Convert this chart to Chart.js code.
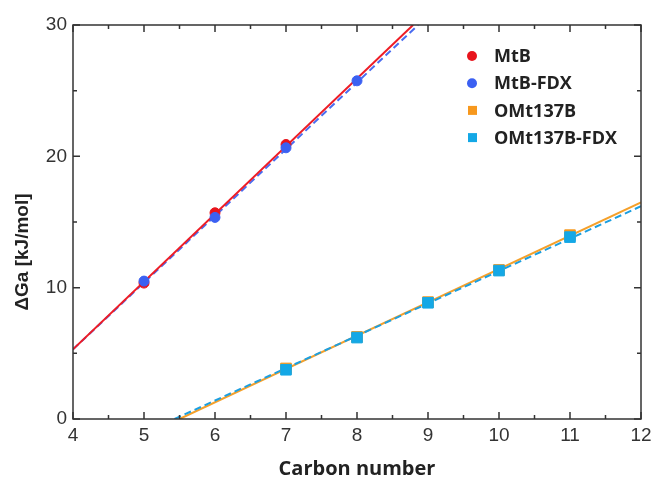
<!DOCTYPE html>
<html>
<head>
<meta charset="utf-8">
<script src="https://cdn.jsdelivr.net/npm/chart.js@4/dist/chart.umd.min.js"></script>
<style>
  html, body { margin: 0; padding: 0; background: #fff; }
  #wrap { width: 654px; height: 486px; }
</style>
</head>
<body>
<div id="wrap"><canvas id="myChart"></canvas></div>
<script>
// measured points
const carbonMtB = [5, 6, 7];
const mtb = [10.35, 15.7, 20.9];
const carbonMtBFdx = [5, 6, 7, 8];
const mtbFdx = [10.5, 15.35, 20.65, 25.75];
const carbonOMt = [7, 8, 9, 10, 11];
const omt = [3.85, 6.25, 8.9, 11.35, 14.0];
const omtFdx = [3.75, 6.2, 8.85, 11.3, 13.85];

// fitted lines, [x, y] end points
const mtbFit = [[4, 5.3], [8.79, 30]];
const mtbFdxFit = [[4, 5.3], [8.86, 30]];
const omtFit = [[5.5, 0], [12, 16.5]];
const omtFdxFit = [[5.43, 0], [12, 16.2]];

const xTicks = [4, 5, 6, 7, 8, 9, 10, 11, 12];
const yTicks = [0, 10, 20, 30];

const toXY = (xs, ys) => xs.map((x, i) => ({x: x, y: ys[i]}));
const toPts = arr => arr.map(p => ({x: p[0], y: p[1]}));

const RED = '#e8141c', BLUE = '#3b60f2', ORANGE = '#f7981d', CYAN = '#14a8e6';

// box frame with inward ticks on all four sides
const frame = {
  id: 'frame',
  afterDatasetsDraw(chart) {
    const {ctx, chartArea: a, scales: {x, y}} = chart;
    ctx.save();
    ctx.strokeStyle = '#333';
    ctx.lineWidth = 1.5;
    ctx.strokeRect(a.left, a.top, a.right - a.left, a.bottom - a.top);
    ctx.beginPath();
    for (let v = 4; v <= 12.001; v += 0.5) {
      const px = x.getPixelForValue(v);
      const len = Number.isInteger(v) ? 7 : 4;
      ctx.moveTo(px, a.bottom); ctx.lineTo(px, a.bottom - len);
      ctx.moveTo(px, a.top); ctx.lineTo(px, a.top + len);
    }
    for (let v = 0; v <= 30; v += 5) {
      const py = y.getPixelForValue(v);
      const len = v % 10 === 0 ? 7 : 4;
      ctx.moveTo(a.left, py); ctx.lineTo(a.left + len, py);
      ctx.moveTo(a.right, py); ctx.lineTo(a.right - len, py);
    }
    ctx.stroke();

    // y axis title
    ctx.translate(23, 252);
    ctx.rotate(-Math.PI / 2);
    ctx.fillStyle = '#222';
    ctx.font = 'bold 19px "Liberation Sans", Arial, sans-serif';
    ctx.textAlign = 'center';
    ctx.textBaseline = 'middle';
    ctx.fillText('ΔGa [kJ/mol]', 0, 0);
    ctx.restore();
  }
};

// legend inside the plot, top right
const insideLegend = {
  id: 'insideLegend',
  afterDraw(chart) {
    const {ctx} = chart;
    const items = chart.data.datasets.filter(d => d.inLegend);
    items.sort((a, b) => a.legendIndex - b.legendIndex);
    ctx.save();
    ctx.font = 'bold 18px "Open Sans", sans-serif';
    ctx.textBaseline = 'middle';
    items.forEach((d, i) => {
      const cy = 56 + i * 27.2;
      ctx.fillStyle = d.backgroundColor;
      if (d.pointStyle === 'rect') {
        ctx.fillRect(468, cy - 4.5, 9, 9);
      } else {
        ctx.beginPath();
        ctx.arc(472, cy, 5, 0, Math.PI * 2);
        ctx.fill();
      }
      ctx.fillStyle = '#222';
      ctx.fillText(d.label, 494, cy + 1);
    });
    ctx.restore();
  }
};

new Chart(document.getElementById('myChart'), {
  type: 'scatter',
  data: {
    datasets: [
      {label: 'MtB-FDX', data: toXY(carbonMtBFdx, mtbFdx), backgroundColor: BLUE, borderColor: BLUE,
       pointRadius: 5, pointStyle: 'circle', order: 1, inLegend: true, legendIndex: 1},
      {label: 'MtB', data: toXY(carbonMtB, mtb), backgroundColor: RED, borderColor: RED,
       pointRadius: 5, pointStyle: 'circle', order: 2, inLegend: true, legendIndex: 0},
      {label: 'OMt137B-FDX', data: toXY(carbonOMt, omtFdx), backgroundColor: CYAN, borderColor: CYAN,
       pointRadius: 7.5, pointStyle: 'rect', order: 3, inLegend: true, legendIndex: 3},
      {label: 'OMt137B', data: toXY(carbonOMt, omt), backgroundColor: ORANGE, borderColor: ORANGE,
       pointRadius: 7.5, pointStyle: 'rect', order: 4, inLegend: true, legendIndex: 2},
      {label: 'MtB fit', data: toPts(mtbFit), showLine: true, pointRadius: 0,
       borderColor: '#ee1c25', borderWidth: 2, order: 5},
      {label: 'MtB-FDX fit', data: toPts(mtbFdxFit), showLine: true, pointRadius: 0,
       borderColor: '#4a6cf0', borderWidth: 2, borderDash: [7, 4], order: 6},
      {label: 'OMt137B-FDX fit', data: toPts(omtFdxFit), showLine: true, pointRadius: 0,
       borderColor: '#1c9fe0', borderWidth: 2, borderDash: [7, 4], order: 7},
      {label: 'OMt137B fit', data: toPts(omtFit), showLine: true, pointRadius: 0,
       borderColor: '#f5a02a', borderWidth: 2, order: 8}
    ]
  },
  options: {
    responsive: true,
    maintainAspectRatio: false,
    animation: false,
    layout: {padding: {top: 25, right: 13, left: 0, bottom: 0}},
    plugins: {legend: {display: false}, tooltip: {enabled: false}},
    scales: {
      x: {
        type: 'linear', min: 4, max: 12,
        afterBuildTicks: s => { s.ticks = xTicks.map(v => ({value: v})); },
        afterFit: s => { s.height = 67; s.paddingLeft = 0; s.paddingRight = 0; },
        grid: {display: false, drawTicks: false},
        border: {display: false},
        ticks: {padding: 5, color: '#333', maxRotation: 0,
                font: {family: '"Liberation Sans", Arial, sans-serif', size: 19}},
        title: {display: true, text: 'Carbon number', color: '#222', padding: {top: 4, bottom: 5},
                font: {family: '"Open Sans", sans-serif', size: 20, weight: 'bold'}}
      },
      y: {
        type: 'linear', min: 0, max: 30,
        afterBuildTicks: s => { s.ticks = yTicks.map(v => ({value: v})); },
        afterFit: s => { s.width = 73; s.paddingTop = 0; s.paddingBottom = 0; },
        grid: {display: false, drawTicks: false},
        border: {display: false},
        ticks: {padding: 6, color: '#333',
                font: {family: '"Liberation Sans", Arial, sans-serif', size: 19}}
      }
    }
  },
  plugins: [frame, insideLegend]
});
</script>
</body>
</html>
